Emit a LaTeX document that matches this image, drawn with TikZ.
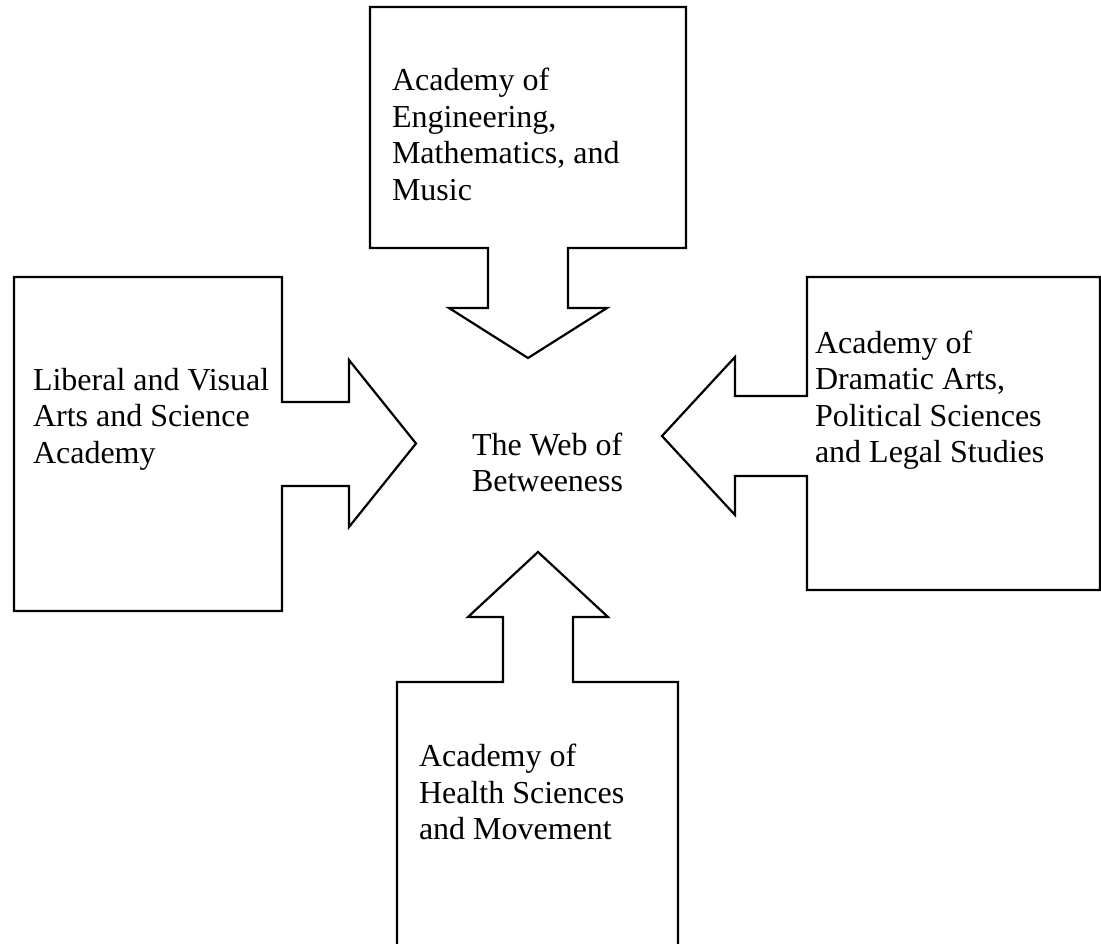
\documentclass[tikz,border=0pt]{standalone}
\usepackage{fontspec}
\setmainfont{Liberation Serif}
\newcommand{\txtstack}[1]{\begin{tabular}[t]{@{}l@{}}#1\end{tabular}}
\tikzset{
  outline/.style={draw=black, line width=2.2pt, line join=miter, fill=white},
  lbl/.style={anchor=base west, inner sep=0pt, outer sep=0pt, font=\fontsize{32}{36.5}\selectfont}
}
\begin{document}
\begin{tikzpicture}[x=1pt,y=-1pt]
\useasboundingbox (0,0) rectangle (1101,943);
\clip (0,0) rectangle (1101,943);
\fill[white] (0,0) rectangle (1101,943);
% top shape
\draw[outline] (370,7) -- (686,7) -- (686,248) -- (568,248) -- (568,308) -- (607,308)
  -- (528,358) -- (449,308) -- (488,308) -- (488,248) -- (370,248) -- cycle;
% left shape
\draw[outline] (14,277) -- (282,277) -- (282,402) -- (349,402) -- (349,360)
  -- (416,443.5) -- (349,527) -- (349,486) -- (282,486) -- (282,611) -- (14,611) -- cycle;
% right shape
\draw[outline] (807,277) -- (1100,277) -- (1100,590) -- (807,590) -- (807,476)
  -- (735,476) -- (735,515) -- (662,436) -- (735,357) -- (735,396) -- (807,396) -- cycle;
% bottom shape
\draw[outline] (397,970) -- (397,682) -- (503,682) -- (503,617) -- (468,617)
  -- (538,552) -- (608,617) -- (573,617) -- (573,682) -- (678,682) -- (678,970);
% texts
\node[lbl] (top) at (392,90.7) {\txtstack{Academy of\\Engineering,\\Mathematics, and\\Music}};
\node[lbl] (left) at (33,390) {\txtstack{Liberal and Visual\\Arts and Science\\Academy}};
\node[lbl] (right) at (815,353) {\txtstack{Academy of\\Dramatic Arts,\\Political Sciences\\and Legal Studies}};
\node[lbl] (bottom) at (419,766.7) {\txtstack{Academy of\\Health Sciences\\and Movement}};
\node[lbl] (center) at (472,455) {\txtstack{The Web of\\Betweeness}};
\end{tikzpicture}
\end{document}
